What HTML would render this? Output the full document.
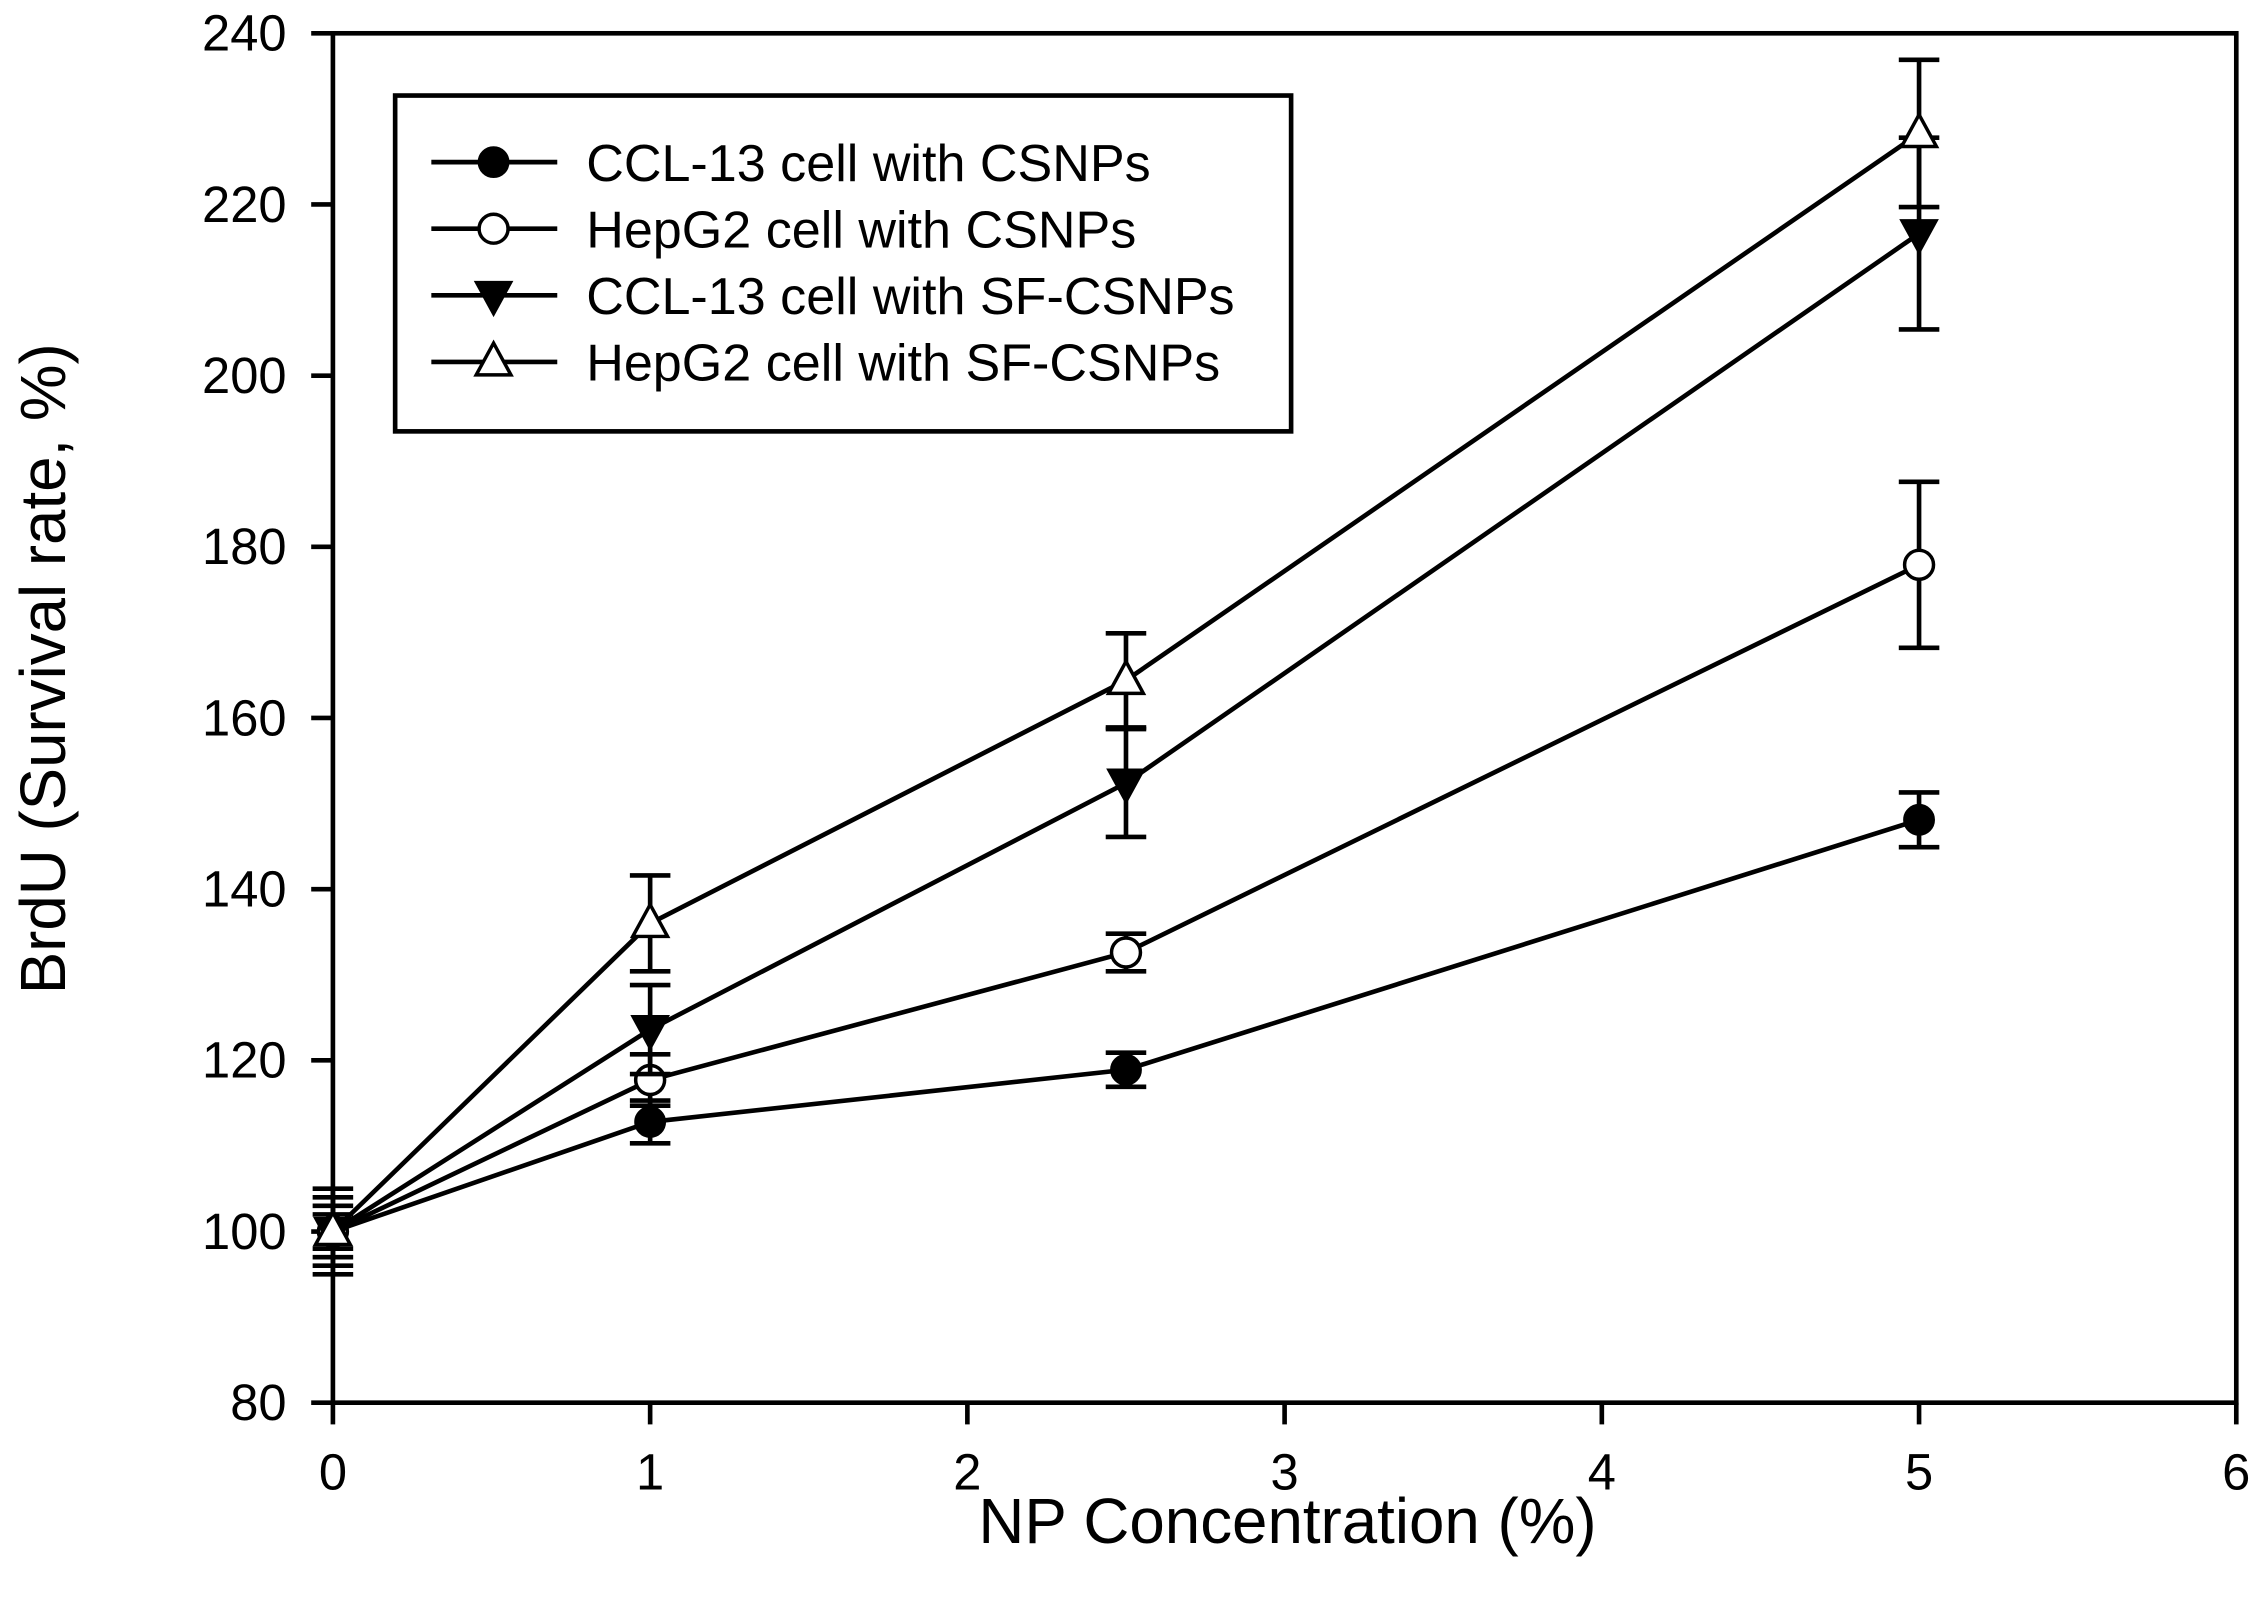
<!DOCTYPE html>
<html><head><meta charset="utf-8"><style>
html,body{margin:0;padding:0;background:#fff;}
svg{display:block;font-family:"Liberation Sans",Arial,sans-serif;}
</style></head><body>
<svg id="chart" width="2258" height="1601" viewBox="0 0 1560 1106" preserveAspectRatio="none" xmlns="http://www.w3.org/2000/svg">
<rect x="0" y="0" width="1560" height="1106" fill="#fff"/>
<g id="plot"></g>
</svg>
<script>
const xTicks=[0,1,2,3,4,5,6];
const yTicks=[80,100,120,140,160,180,200,220,240];
const xVals=[0,1,2.5,5];
const ccl13Csnps=[100,112.8,118.9,148.1];
const ccl13CsnpsErr=[5,2.5,2,3.2];
const hepg2Csnps=[100,117.7,132.6,177.9];
const hepg2CsnpsErr=[4,3,2.2,9.7];
const ccl13Sf=[100,123.6,152.4,216.6];
const ccl13SfErr=[3,5.2,6.3,11.2];
const hepg2Sf=[100,136,164.4,228.3];
const hepg2SfErr=[2,5.6,5.5,8.6];
const seriesNames=["CCL-13 cell with CSNPs","HepG2 cell with CSNPs","CCL-13 cell with SF-CSNPs","HepG2 cell with SF-CSNPs"];

const L=230,R=1545,T=23,B=969;
const X=v=>L+(v-0)/6*(R-L);
const Y=v=>B-(v-80)/160*(B-T);
const NS="http://www.w3.org/2000/svg";
const g=document.getElementById('plot');
function mk(tag,attrs,parent){const e=document.createElementNS(NS,tag);for(const k in attrs)e.setAttribute(k,attrs[k]);(parent||g).appendChild(e);return e;}
const sw=3.2;

const frame=mk('rect',{x:L,y:T,width:R-L,height:B-T,fill:'none',stroke:'#000','stroke-width':sw});



xTicks.forEach(t=>{
  const ln=mk('line',{x1:X(t),x2:X(t),y1:B,y2:B+15,stroke:'#000','stroke-width':sw});
  
  
  const tx=mk('text',{x:X(t),y:B+60,'font-size':35,'text-anchor':'middle'});
  tx.textContent=t;
  
  
});
yTicks.forEach(t=>{
  const ln=mk('line',{x1:L-15,x2:L,y1:Y(t),y2:Y(t),stroke:'#000','stroke-width':sw});
  
  
  const tx=mk('text',{x:L-32,y:Y(t)+12,'font-size':35,'text-anchor':'end'});
  tx.textContent=t;
  
  
});
const xt=mk('text',{x:(L+R)/2+2,y:1066,'font-size':44,'text-anchor':'middle'});
xt.textContent='NP Concentration (%)';


const yt=mk('text',{x:0,y:0,'font-size':44,'text-anchor':'middle',transform:'translate(45,462) rotate(-90)'});
yt.textContent='BrdU (Survival rate, %)';



function marker(type,cx,cy,parent){
  const r=10;
  if(type==='fc')return mk('circle',{cx,cy,r,fill:'#000',stroke:'#000','stroke-width':2},parent);
  if(type==='oc')return mk('circle',{cx,cy,r,fill:'#fff',stroke:'#000','stroke-width':2.4},parent);
  if(type==='dt')return mk('polygon',{points:`${cx-12},${cy-9} ${cx+12},${cy-9} ${cx},${cy+13}`,fill:'#000',stroke:'#000','stroke-width':2},parent);
  return mk('polygon',{points:`${cx-12},${cy+9} ${cx+12},${cy+9} ${cx},${cy-13}`,fill:'#fff',stroke:'#000','stroke-width':2.4},parent);
}
const series=[[ccl13Csnps,ccl13CsnpsErr,'fc'],[hepg2Csnps,hepg2CsnpsErr,'oc'],[ccl13Sf,ccl13SfErr,'dt'],[hepg2Sf,hepg2SfErr,'ut']];
series.forEach((s,si)=>{
  const grp=mk('g',{});
  
  
  const pl=mk('polyline',{points:xVals.map((x,i)=>X(x)+','+Y(s[0][i])).join(' '),fill:'none',stroke:'#000','stroke-width':sw},grp);
  
  
  xVals.forEach((x,i)=>{
    const cx=X(x),hi=Y(s[0][i]+s[1][i]),lo=Y(s[0][i]-s[1][i]);
    const eb=mk('path',{d:`M${cx},${hi}V${lo}M${cx-14},${hi}H${cx+14}M${cx-14},${lo}H${cx+14}`,stroke:'#000','stroke-width':sw,fill:'none'},grp);
    
    
  });
  xVals.forEach((x,i)=>{
    const m=marker(s[2],X(x),Y(s[0][i]),grp);
    
    
  });
});

const lg=mk('g',{});


mk('rect',{x:273,y:66,width:619,height:232,fill:'#fff',stroke:'#000','stroke-width':sw},lg);
seriesNames.forEach((n,i)=>{
  const yy=112+i*46;
  const e=mk('g',{},lg);
  
  
  mk('line',{x1:298,x2:385,y1:yy,y2:yy,stroke:'#000','stroke-width':sw},e);
  marker(series[i][2],341,yy,e);
  const t=mk('text',{x:405,y:yy+13,'font-size':36},e);
  t.textContent=n;
});
</script>
</body></html>
